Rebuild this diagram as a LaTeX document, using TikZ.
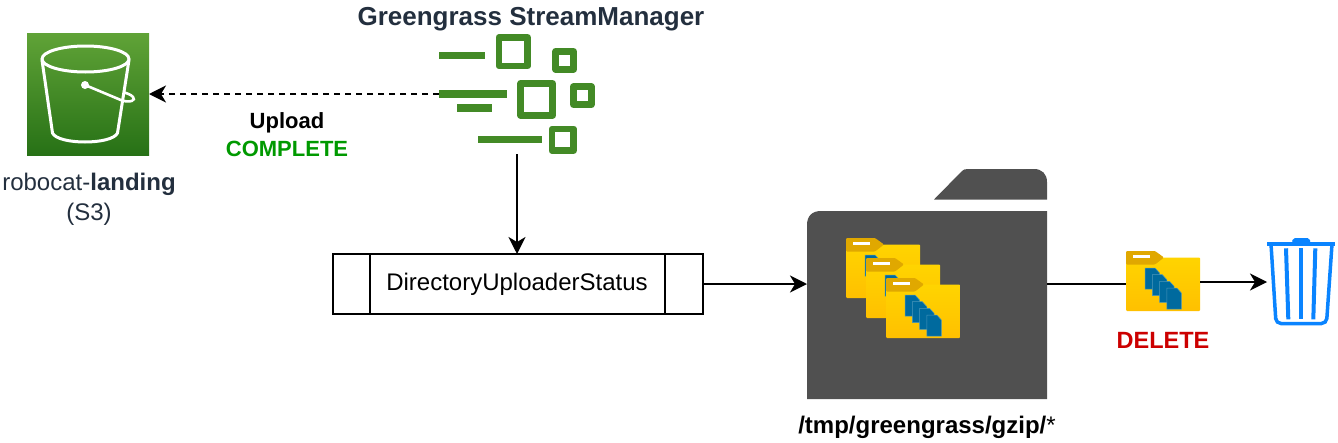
\documentclass[tikz,border=0pt]{standalone}
\usepackage{fontspec}
\setmainfont{Liberation Sans}
\usetikzlibrary{arrows.meta}
\definecolor{awsdark}{HTML}{232F3E}
\definecolor{awsgreen}{HTML}{438A26}
\definecolor{foldergray}{HTML}{505050}
\definecolor{trashblue}{HTML}{0A84FF}
\definecolor{docblue}{HTML}{006A9E}
\definecolor{foldertop}{HTML}{FFD400}
\definecolor{folderlow}{HTML}{FFC000}
\definecolor{foldertab}{HTML}{E0A800}
\tikzset{
every node/.style={font=\fontsize{24}{30}\selectfont, align=center}, % Sets the text of each node
iconbox/.style={inner sep=0pt, outer sep=0pt},
flow/.style={draw, line width=2pt, -{Stealth[length=17pt, width=17pt, inset=5pt]}},
stream line/.style={fill=awsgreen},
stream square/.style={draw=awsgreen, line width=6.7pt, line join=round},
trash line/.style={draw=trashblue, line width=4pt},
pics/gzfolder/.style={code={
	\shade[top color=foldertop, bottom color=folderlow, rounded corners=1pt] (0,6.5) rectangle (74,60);
	\fill[rounded corners=1pt, foldertab] (0,13.5) -- (0,0) -- (29,0) -- (38,6.5) -- (29,13.5) -- cycle;
	\fill[white] (7,3.5) rectangle (24,7);
	\foreach \i in {0,1,2,3} { % Pages inside the folder
		\fill[docblue, draw=docblue!70!white, line width=0.5pt, shift={(19+7.3*\i,17+6.7*\i)}] (0,0) -- (10,0) -- (14.5,5) -- (14.5,21) -- (0,21) -- cycle;
	}
}}
}

\begin{document}
\begin{tikzpicture}[x=1pt, y=-1pt]
	\useasboundingbox (0,0) rectangle (1338,442);
	% S3 bucket
	\node[iconbox, minimum size=122pt, top color={rgb,255:red,96;green,163;blue,55}, bottom color={rgb,255:red,39;green,113;blue,22}] (bucket) at (88,94) {};
	\begin{scope}[draw=white, line width=3pt]
		\draw (85.5,59) ellipse (43.5pt and 13pt);
		\draw (42,60) -- (52.5,133) .. controls (58,145) and (112,145) .. (117.5,133) -- (129,60);
		\fill[white] (85,85) circle (4pt);
		\draw[line width=2.6pt] (85,85) -- (122,100.5) .. controls (131,103) and (136,100) .. (133,97) .. controls (131,94.5) and (127,93.5) .. (124.5,92.5);
	\end{scope}
	\node[text=awsdark] (bucketname) at (89,199) {robocat-\textbf{landing}\\(S3)};
	% StreamManager
	\node[iconbox, minimum width=156pt, minimum height=120pt] (stream) at (517,94) {};
	\node[text=awsdark, font=\fontsize{26}{30}\selectfont\bfseries] (streamname) at (531,19) {Greengrass StreamManager};
	\foreach \x/\y/\w in {439.3/51.7/46, 439.3/90.3/67.4, 457/104.3/35.3, 478/136/64} {
		\fill[stream line] (\x,\y) rectangle +(\w,7.4);
	}
	\foreach \x/\y/\s in {495.7/34/35.3, 552.3/48/24.7, 517.3/80/38.7, 570/83.3/24.7, 548.7/125.7/28.3} {
		\draw[stream square] (\x+3.35,\y+3.35) rectangle +(\s-6.7,\s-6.7);
	}
	% Status queue
	\node[draw, line width=2pt, minimum width=370pt, minimum height=60pt, outer sep=0pt] (status) at (518,284) {\raisebox{-2pt}{DirectoryUploaderStatus}\hspace{2pt}};
	\draw[line width=2pt] ([xshift=37pt]status.north west) -- ([xshift=37pt]status.south west);
	\draw[line width=2pt] ([xshift=-38pt]status.north east) -- ([xshift=-38pt]status.south east);
	% Gzip folder
	\node[iconbox, minimum width=240pt, minimum height=230pt] (gzip) at (927,284) {};
	\fill[foldergray] (807,399) -- (807,225) .. controls (807,216) and (812,211) .. (821,211) -- (1047,211) -- (1047,399) -- cycle;
	\fill[foldergray] (934,199.5) -- (962,171) .. controls (963.5,169.5) and (965,169) .. (968,169) -- (1034,169) .. controls (1042,169) and (1047,174) .. (1047,182) -- (1047,199.5) -- cycle;
	\pic at (846,238) {gzfolder};
	\pic at (866,258) {gzfolder};
	\pic at (886,278) {gzfolder};
	\node (gzipname) at (927,427) {\textbf{/tmp/greengrass/gzip/}*};
	% Folder being deleted
	\node[iconbox, minimum width=74pt, minimum height=60pt] (delfolder) at (1163,282) {};
	\pic at (1126,251) {gzfolder};
	\node[text={rgb,255:red,204;green,0;blue,0}, font=\fontsize{23.5}{30}\selectfont\bfseries] (deletename) at (1163,340) {DELETE};
	% Trash
	\node[iconbox, minimum width=68pt, minimum height=88pt] (trash) at (1301,282) {};
	\fill[trashblue, rounded corners=2pt] (1291.7,243) -- (1293,238) -- (1309.5,238) -- (1310.7,243) -- cycle;
	\fill[trashblue] (1267.3,242) rectangle (1335,246);
	\draw[trash line, line width=3.5pt, rounded corners=5pt] (1271,244) -- (1276,323.5) -- (1326.5,323.5) -- (1332,244);
	\draw[trash line] (1286,248.3) -- (1288.3,319.3);
	\draw[trash line] (1301,248.3) -- (1301,319.3);
	\draw[trash line] (1315.3,248.3) -- (1313.3,319.3);
	% Connectors
	\draw[flow, dashed, dash pattern=on 6pt off 5pt] (stream.west) -- (bucket.east);
	\node[font=\fontsize{22}{30}\selectfont] (uploadname) at (287,135) {\textbf{Upload}\\[-2pt]\textcolor[HTML]{009900}{\textbf{COMPLETE}}};
	\draw[flow] (stream.south) -- (stream.south |- status.north);
	\draw[flow] (status.east) -- (gzip.west);
	\draw[line width=2pt] (gzip.east) -- (gzip.east -| delfolder.west);
	\draw[flow] (delfolder.east) -- (trash.west);
\end{tikzpicture}
\end{document}
